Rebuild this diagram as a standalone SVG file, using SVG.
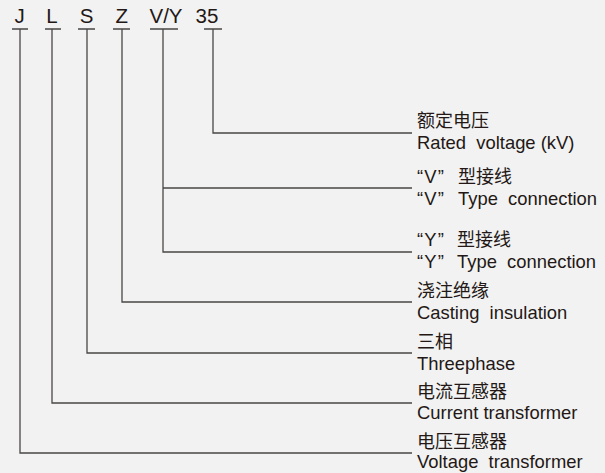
<svg xmlns="http://www.w3.org/2000/svg" width="605" height="473" viewBox="0 0 605 473">
<style>
.bg{fill:#f2f2f2}
.ln{fill:none;stroke:#4a4646;stroke-width:1.3}
.code{font-family:"Liberation Sans",Arial,sans-serif;font-size:20.5px;fill:#231815;text-anchor:middle}
.zh{font-family:"Noto Sans CJK SC","Liberation Sans",sans-serif;font-size:18px;fill:#231815}
.en{font-family:"Liberation Sans",Arial,sans-serif;font-size:18.4px;fill:#231815}
.q{font-family:"Liberation Sans",Arial,sans-serif;font-size:18.4px;letter-spacing:1.2px}
</style>
<rect class="bg" x="0" y="0" width="605" height="473"/>
<g id="codes">
<text class="code" x="19.5" y="23">J</text>
<text class="code" x="52" y="23">L</text>
<text class="code" x="86.7" y="23">S</text>
<text class="code" x="121.7" y="23">Z</text>
<text class="code" x="166" y="23">V/Y</text>
<text class="code" x="207" y="23">35</text>
</g>
<g id="connectors">
<path class="ln" d="M12 29H28M20 29V453H412"/>
<path class="ln" d="M45 29H61M52 29V403H412"/>
<path class="ln" d="M78 29H95M87 29V353H412"/>
<path class="ln" d="M113 29H130M122 29V302H412"/>
<path class="ln" d="M150 29H178M163 29V252H412M163 188H412"/>
<path class="ln" d="M204 29H222M213 29V133H412"/>
</g>
<g id="rated">
<text class="zh" x="417" y="127">额定电压</text>
<text class="en" x="417" y="149" xml:space="preserve">Rated  voltage (kV)</text>
</g>
<g id="vtype">
<text class="zh" x="417" y="183"><tspan class="q">“V”</tspan><tspan x="458">型接线</tspan></text>
<text class="en" x="417" y="205"><tspan class="q">“V”</tspan><tspan x="458" xml:space="preserve">Type  connection</tspan></text>
</g>
<g id="ytype">
<text class="zh" x="417" y="246"><tspan class="q">“Y”</tspan><tspan x="457">型接线</tspan></text>
<text class="en" x="417" y="268"><tspan class="q">“Y”</tspan><tspan x="457" xml:space="preserve">Type  connection</tspan></text>
</g>
<g id="casting">
<text class="zh" x="417" y="297">浇注绝缘</text>
<text class="en" x="417" y="319" xml:space="preserve">Casting  insulation</text>
</g>
<g id="threephase">
<text class="zh" x="417" y="348">三相</text>
<text class="en" x="417" y="370">Threephase</text>
</g>
<g id="current">
<text class="zh" x="417" y="398">电流互感器</text>
<text class="en" x="417" y="419">Current transformer</text>
</g>
<g id="voltage">
<text class="zh" x="417" y="448">电压互感器</text>
<text class="en" x="417" y="468" xml:space="preserve">Voltage  transformer</text>
</g>
</svg>
